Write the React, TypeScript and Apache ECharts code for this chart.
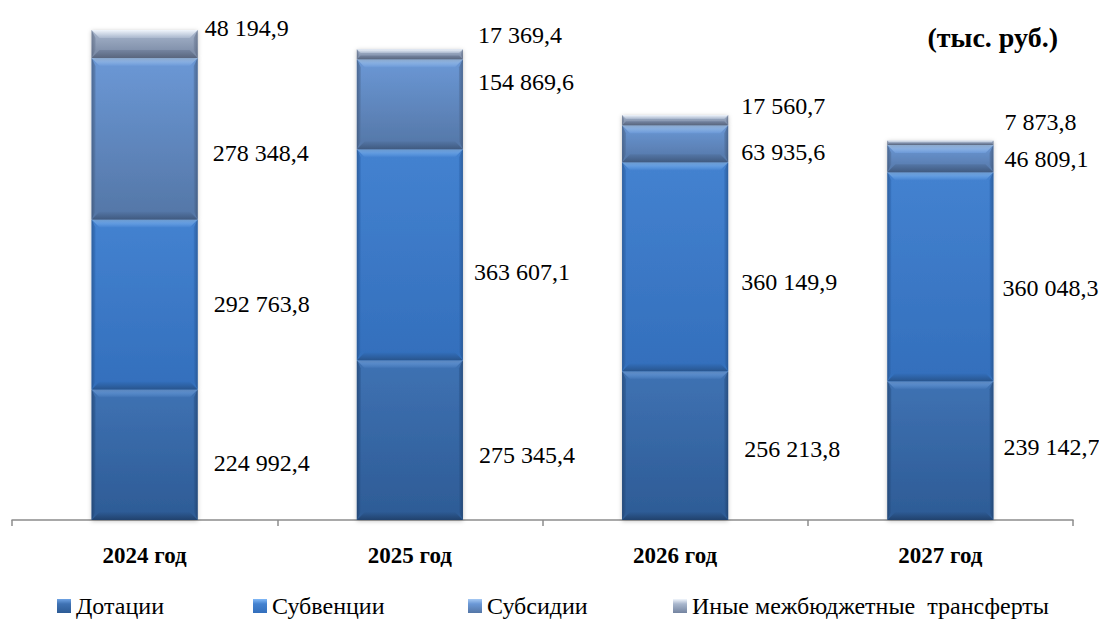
import React, { useEffect, useRef } from "react";
import * as echarts from "echarts";

const categories = ["2024 год", "2025 год", "2026 год", "2027 год"];
const seriesNames = ["Дотации", "Субвенции", "Субсидии", "Иные межбюджетные  трансферты"];
const dotacii = [224992.4, 275345.4, 256213.8, 239142.7];
const subvencii = [292763.8, 363607.1, 360149.9, 360048.3];
const subsidii = [278348.4, 154869.6, 63935.6, 46809.1];
const inye = [48194.9, 17369.4, 17560.7, 7873.8];
const unitLabel = "(тыс. руб.)";

// label placement tweaks (styling only): offset from bar right edge / segment middle
const labelDx = [
  [16, 16, 16, 10],
  [16, 11, 13, 9],
  [15, 15, 13, 11],
  [7, 15, 13, 11],
];
const labelDy = [
  [8, 15, 3, -4],
  [0, 17, 15, 11],
  [14, -22, 8, 0],
  [-16, -19, -14, -21],
];
const legendLefts = [52, 248, 463, 668];

const PAL = [
  { top: "#3f72b3", bottom: "#2d5b95", hi: "#6fa3e4", dark: "#21426d", edge: "#1d3a61" },
  { top: "#4482d0", bottom: "#336fbc", hi: "#82b9f7", dark: "#28558e", edge: "#224a7e" },
  { top: "#6b98d6", bottom: "#5476a6", hi: "#a6c9f3", dark: "#405a80", edge: "#394c69" },
  { top: "#a9b7cd", bottom: "#7484a0", hi: "#f0f5fc", dark: "#59667e", edge: "#535f76" },
];

const FONT = "Liberation Serif";

function fmt(v: number): string {
  const [i, d] = v.toFixed(1).split(".");
  const s = i.replace(/\B(?=(\d{3})+(?!\d))/g, " ");
  return s + "," + d;
}

const vgrad = (stops: [number, string][]) =>
  new echarts.graphic.LinearGradient(0, 0, 0, 1, stops.map(([offset, color]) => ({ offset, color })));
const hgrad = (stops: [number, string][]) =>
  new echarts.graphic.LinearGradient(0, 0, 1, 0, stops.map(([offset, color]) => ({ offset, color })));

export default function App() {
  const ref = useRef<HTMLDivElement>(null);
  useEffect(() => {
    if (!ref.current) return;
    const chart = echarts.init(ref.current, undefined, { renderer: "svg" });
    const all = [dotacii, subvencii, subsidii, inye];
    const cum: number[][] = [];
    categories.forEach((_, ci) => {
      let s = 0;
      all.forEach((arr, si) => {
        if (!cum[si]) cum[si] = [];
        cum[si][ci] = s;
        s += arr[ci];
      });
    });

    const makeSeries = (si: number) => {
      const arr = all[si];
      const p = PAL[si];
      return {
        type: "custom",
        name: seriesNames[si],
        itemStyle: { color: vgrad([[0, p.hi], [0.35, p.top], [1, p.bottom]]) },
        data: arr.map((v, ci) => [ci, cum[si][ci], cum[si][ci] + v, v]),
        encode: { x: 0, y: [1, 2] },
        renderItem: (params: any, api: any) => {
          const ci = api.value(0);
          const start = api.value(1);
          const end = api.value(2);
          const val = api.value(3);
          const p0 = api.coord([ci, start]);
          const p1 = api.coord([ci, end]);
          const w = api.size([1, 0])[0] * 0.4;
          const x = p0[0] - w / 2;
          const y = p1[1];
          const h = p0[1] - p1[1];
          const b = Math.min(8, h / 2.6);
          const children: any[] = [
            {
              type: "rect",
              shape: { x, y, width: w, height: h },
              style: {
                fill: vgrad([[0, p.top], [1, p.bottom]]),
                shadowBlur: 4,
                shadowColor: "rgba(0,0,0,0.25)",
                shadowOffsetY: 1,
              },
            },
            {
              type: "polygon",
              shape: { points: [[x, y], [x + w, y], [x + w - b, y + b], [x + b, y + b]] },
              style: { fill: vgrad([[0, p.hi], [1, p.top]]) },
            },
            {
              type: "polygon",
              shape: { points: [[x + b, y + h - b], [x + w - b, y + h - b], [x + w, y + h], [x, y + h]] },
              style: { fill: vgrad([[0, p.bottom], [1, p.dark]]) },
            },
            {
              type: "polygon",
              shape: { points: [[x, y], [x + b * 0.5, y + b], [x + b * 0.5, y + h - b], [x, y + h]] },
              style: { fill: hgrad([[0, p.edge], [1, p.bottom]]), opacity: 0.6 },
            },
            {
              type: "polygon",
              shape: { points: [[x + w, y], [x + w - b * 0.5, y + b], [x + w - b * 0.5, y + h - b], [x + w, y + h]] },
              style: { fill: hgrad([[0, p.bottom], [1, p.edge]]), opacity: 0.6 },
            },
            {
              type: "text",
              style: {
                x: x + w + labelDx[si][ci],
                y: (p0[1] + p1[1]) / 2 + labelDy[si][ci],
                text: fmt(val),
                fill: "#000",
                fontFamily: FONT,
                fontSize: 24,
                align: "left",
                verticalAlign: "middle",
              },
            },
          ];
          return { type: "group", children };
        },
      };
    };

    chart.setOption({
      animation: false,
      backgroundColor: "#ffffff",
      textStyle: { fontFamily: FONT },
      grid: { left: 12, right: 26, top: 20.9, bottom: 99 },
      xAxis: {
        type: "category",
        data: categories,
        boundaryGap: true,
        axisLine: { show: true, lineStyle: { color: "#8c8c8c", width: 1.5 } },
        axisTick: { show: true, length: 6, lineStyle: { color: "#8c8c8c", width: 1.5 } },
        axisLabel: {
          color: "#000",
          fontFamily: FONT,
          fontWeight: "bold",
          fontSize: 23,
          margin: 24,
        },
      },
      yAxis: { type: "value", min: 0, max: 860000, show: false, splitLine: { show: false } },
      legend: seriesNames.map((n, i) => ({
        left: legendLefts[i],
        top: 589,
        itemWidth: 14,
        itemHeight: 14,
        icon: "rect",
        textStyle: { color: "#000", fontFamily: FONT, fontSize: 24 },
        data: [n],
      })),
      graphic: [
        {
          type: "text",
          x: 1058,
          y: 37,
          style: {
            text: unitLabel,
            fill: "#000",
            fontFamily: FONT,
            fontWeight: "bold",
            fontSize: 28,
            align: "right",
            verticalAlign: "middle",
          },
        },
      ],
      series: [0, 1, 2, 3].map(makeSeries),
    });
    return () => chart.dispose();
  }, []);
  return <div ref={ref} style={{ position: "fixed", left: 0, top: 0, width: 1099, height: 619 }} />;
}
